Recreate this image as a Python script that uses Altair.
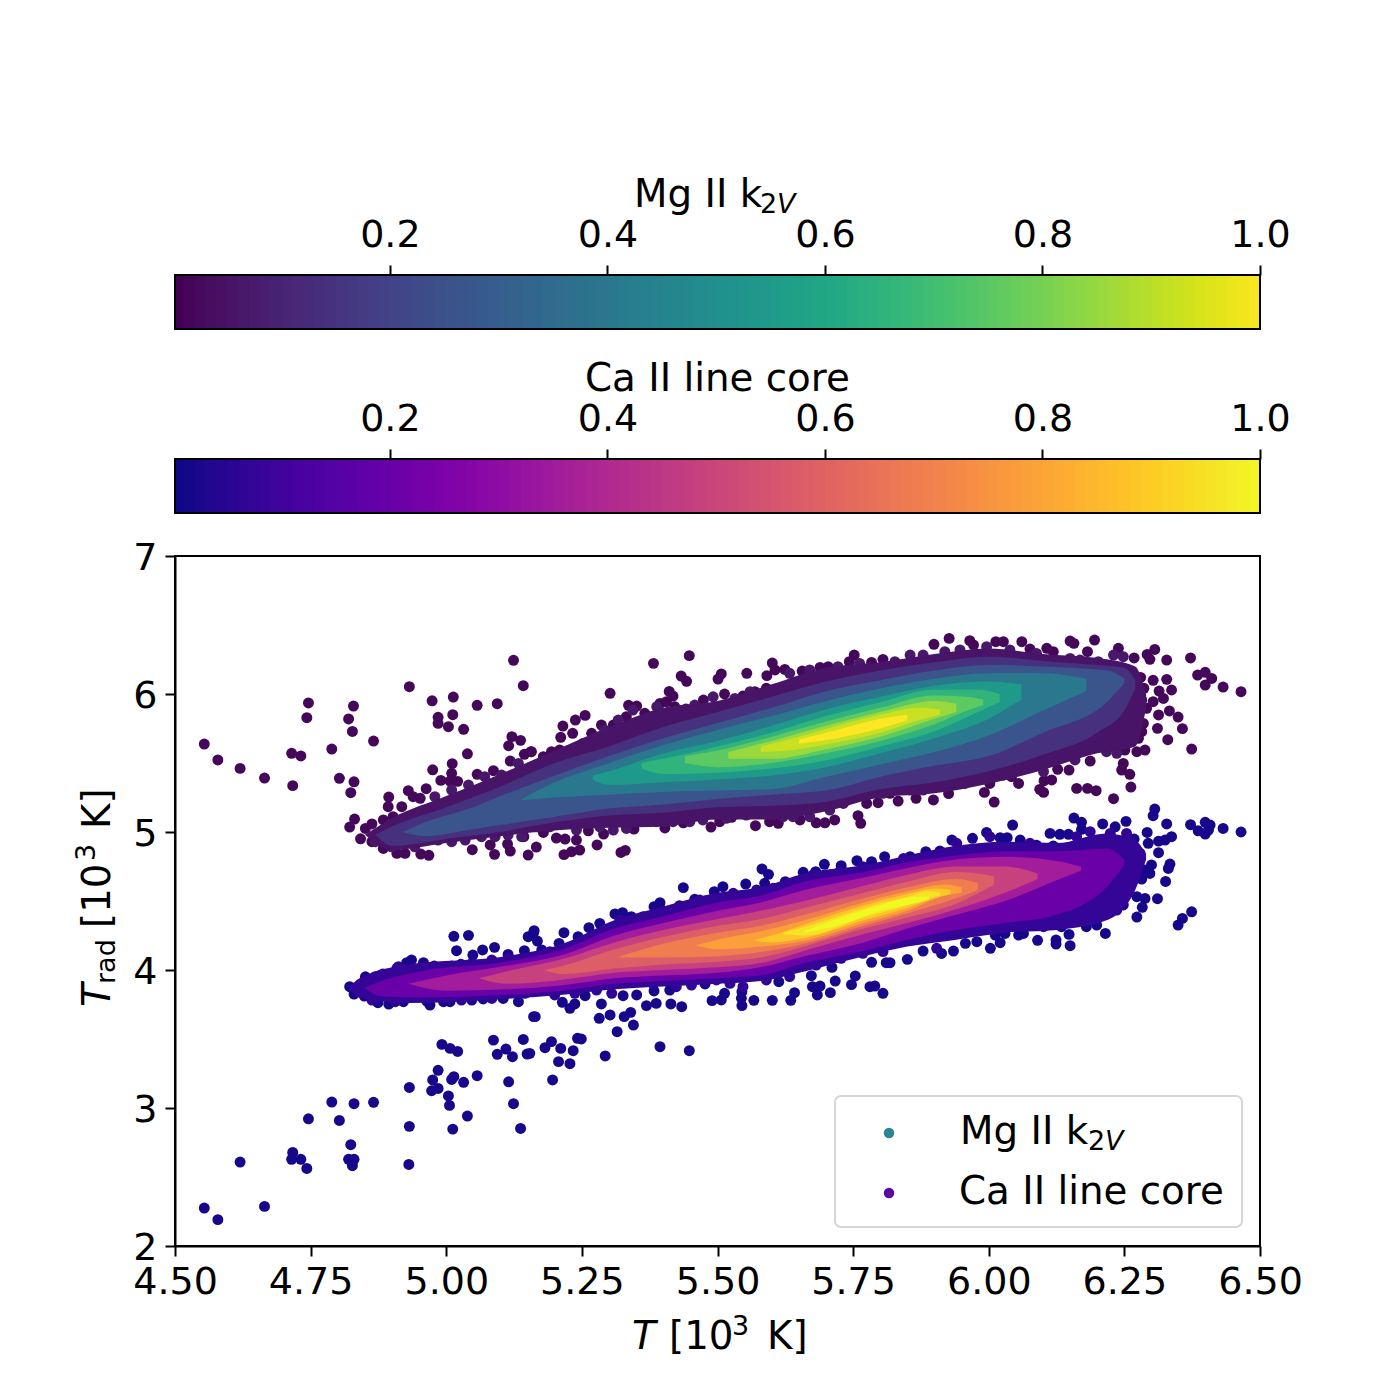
import altair as alt
import pandas as pd

FONT = "DejaVu Sans"
TEXT = 38.8
SUB = 27

# loose points, T and Trad in 10^3 K
mg_x = [4.554, 4.579, 4.620, 4.665, 4.717, 4.715, 4.732, 4.746, 4.743, 4.789, 4.803, 4.830, 4.824, 4.829, 4.820, 4.827, 4.866, 4.932, 4.974, 5.013, 5.057, 5.094, 5.124, 5.142, 4.985, 4.985, 5.012, 5.004, 5.032, 5.039, 5.121, 5.137, 5.115, 5.118, 5.144, 5.156, 4.975, 5.011, 5.010, 4.990, 5.007, 5.021, 5.057, 5.087, 4.894, 4.930, 4.963, 4.939, 4.952, 4.893, 4.831, 4.822, 4.842, 4.851, 4.863, 4.884, 4.902, 4.918, 4.863, 4.884, 4.909, 4.924, 4.953, 4.968, 5.048, 5.089, 5.118, 5.151, 5.113, 5.081, 5.143,
        5.382, 5.448, 5.302, 5.433, 5.443, 5.507, 5.501, 5.554, 5.411, 5.418, 5.256, 5.238, 5.215, 5.211, 5.233, 5.336, 5.351, 5.394, 5.406, 5.601, 5.591, 5.606, 5.624, 5.656, 5.689, 5.704, 5.743, 5.752, 5.784, 5.805, 5.474, 5.513, 5.547, 5.569, 5.590, 5.421, 5.442, 5.366, 5.332, 5.308, 5.286, 5.268, 5.252, 5.280, 5.209, 5.194, 5.179, 5.157,
        5.217, 5.231, 5.246, 5.166, 5.278, 5.322, 5.330, 5.262, 5.203, 5.219, 5.240, 5.179, 5.290, 5.346, 5.403, 5.488, 5.504, 5.526, 5.570, 5.612, 5.596, 5.652, 5.682, 5.698, 5.716, 5.759, 5.764, 5.775, 5.796, 5.437, 5.372,
        5.899, 5.927, 5.965, 5.972, 6.013, 6.027, 6.061, 6.076, 6.107, 6.119, 6.150, 6.157, 6.195, 6.182, 6.239, 6.306, 6.292, 6.297, 6.268, 6.328, 6.372, 6.385, 6.399, 6.411, 6.399, 6.432, 6.465, 6.280, 6.303, 6.328, 6.337, 6.314, 6.286, 6.322, 6.303, 6.282, 6.273, 6.291, 6.333, 6.349, 6.313, 6.357, 6.311, 6.330, 6.374, 6.285, 6.263, 6.282, 6.276, 6.288, 6.273, 6.251, 6.248, 6.245, 6.260, 6.262, 6.230, 6.198, 6.182, 6.162, 6.101, 6.094, 6.116, 6.102, 6.148, 6.127, 6.055, 6.187, 6.010, 5.992, 5.926, 5.898, 5.866, 5.833, 5.818, 5.956, 6.002, 6.042]
mg_y = [5.637, 5.522, 5.461, 5.391, 5.336, 5.570, 5.551, 5.935, 5.828, 5.601, 5.389, 5.364, 5.285, 5.913, 5.819, 5.729, 5.659, 6.053, 5.951, 5.978, 5.918, 5.930, 6.244, 6.060, 5.831, 5.787, 5.850, 5.763, 5.744, 5.567, 5.691, 5.664, 5.625, 5.514, 5.563, 5.582, 5.451, 5.495, 5.425, 5.374, 5.369, 5.367, 5.418, 5.444, 5.253, 5.299, 5.314, 5.256, 5.244, 5.183, 5.094, 5.036, 4.951, 5.026, 5.058, 5.087, 5.111, 5.183, 4.930, 4.881, 4.845, 4.845, 4.840, 4.831, 4.872, 4.838, 4.862, 4.833, 4.913, 4.906, 4.966,
        6.222, 6.278, 6.005, 6.130, 6.092, 6.145, 6.108, 6.150, 6.019, 5.985, 5.845, 5.811, 5.768, 5.686, 5.715, 5.918, 5.913, 5.932, 5.944, 6.224, 6.133, 6.174, 6.178, 6.166, 6.193, 6.198, 6.234, 6.282, 6.229, 6.251, 5.956, 6.000, 5.985, 6.017, 6.041, 5.908, 5.891, 5.860, 5.836, 5.775, 5.775, 5.715, 5.642, 5.582, 5.594, 5.582, 5.546, 5.582,
        4.836, 4.857, 4.869, 4.891, 4.906, 4.852, 4.867, 5.009, 4.956, 4.949, 4.942, 4.997, 4.985, 5.021, 5.029, 5.036, 5.075, 5.106, 5.046, 5.063, 5.075, 5.087, 5.067, 5.067, 5.087, 5.118, 5.063, 5.207, 5.212, 5.067, 5.087,
        6.360, 6.403, 6.386, 6.355, 6.379, 6.379, 6.379, 6.326, 6.331, 6.307, 6.384, 6.367, 6.391, 6.307, 6.331, 6.323, 6.287, 6.251, 6.261, 6.246, 6.261, 6.137, 6.157, 6.113, 6.065, 6.050, 6.017, 6.120, 6.099, 6.106, 6.029, 6.021, 6.041, 5.968, 5.944, 5.956, 5.896, 5.896, 5.877, 5.833, 5.848, 5.749, 5.751, 5.669, 5.601, 5.787, 5.787, 5.727, 5.679, 5.594, 5.582, 5.594, 5.497, 5.449, 5.418, 5.326, 5.241, 5.299, 5.316, 5.316, 5.287, 5.309, 5.377, 5.372, 5.449, 5.454, 5.352, 5.514, 5.217, 5.287, 5.278, 5.232, 5.244, 5.224, 5.280, 5.352, 5.352, 5.401]

ca_x = [5.014, 5.041, 5.019, 5.049, 5.067, 5.089, 5.114, 5.144, 5.151, 5.161, 4.822, 4.830, 4.849, 4.851, 4.874, 4.894, 4.921, 4.883, 4.909, 4.927, 4.936, 4.958, 4.978, 5.010, 5.027, 4.964, 4.970, 4.995, 5.007, 5.047, 5.068, 5.105, 5.133, 5.161, 4.992, 5.007, 5.021, 5.087, 5.094, 5.110, 5.122, 5.142, 5.149, 4.985, 4.975, 4.985, 4.973, 5.010, 5.014, 5.032, 5.057, 5.115, 4.932, 5.004, 5.006, 5.039, 5.124, 4.932, 5.012, 5.137, 4.789, 4.830, 4.866, 4.746, 4.803, 4.824, 4.717, 4.715, 4.732, 4.743, 4.620, 4.820, 4.830, 4.827, 4.931, 4.554, 4.579, 4.665,
        5.437, 5.582, 5.594, 5.587, 5.658, 5.697, 5.728, 5.757, 5.784, 5.808, 5.681, 5.625, 5.552, 5.510, 5.494, 5.458, 5.455, 5.394, 5.383, 5.397, 5.430, 5.311, 5.325, 5.341, 5.363, 5.372, 5.283, 5.263, 5.217, 5.162, 5.168, 5.176, 5.208, 5.243, 5.320,
        5.164, 5.214, 5.237, 5.228, 5.256, 5.286, 5.302, 5.282, 5.340, 5.328, 5.345, 5.315, 5.351, 5.326, 5.383, 5.369, 5.387, 5.414, 5.434, 5.412, 5.477, 5.490, 5.507, 5.513, 5.545, 5.544, 5.545, 5.567, 5.601, 5.635, 5.642, 5.613, 5.649, 5.673, 5.711, 5.717, 5.675, 5.689, 5.684, 5.708, 5.754, 5.747, 5.781, 5.790, 5.805, 5.811, 5.784, 5.182, 5.194, 5.211, 5.234, 5.242, 5.249, 5.207, 5.228, 5.293, 5.394, 5.448, 5.196, 5.154,
        6.044, 6.157, 6.171, 6.171, 6.210, 6.233, 6.253, 6.306, 6.303, 6.328, 6.292, 6.337, 6.325, 6.313, 6.372, 6.386, 6.399, 6.408, 6.405, 6.399, 6.432, 6.465, 6.113, 6.131, 6.147, 5.932, 5.996, 5.970, 6.021, 6.034, 6.058, 6.088, 6.119, 5.910, 5.884, 5.855, 6.268, 6.294, 6.313, 6.300, 6.334, 6.331, 6.326, 6.311, 6.282, 6.288, 6.297, 6.260, 6.273, 6.288, 6.283, 6.273, 6.374, 6.357, 6.349, 6.248, 6.215, 6.180, 6.199, 6.148, 6.150, 6.124, 6.124, 6.090, 6.064, 6.055, 6.021, 6.030, 6.012, 6.003, 5.978, 5.957, 5.935, 5.913, 5.879, 5.850, 5.818, 6.113, 6.134]
ca_y = [4.244, 4.251, 4.140, 4.108, 4.145, 4.164, 4.113, 4.140, 4.241, 4.270, 3.879, 3.826, 3.811, 3.951, 3.763, 3.753, 3.770, 3.971, 4.012, 4.053, 4.072, 4.053, 4.029, 4.029, 4.041, 3.775, 3.746, 3.770, 3.770, 3.782, 3.790, 3.794, 3.770, 3.662, 3.461, 3.432, 3.410, 3.492, 3.389, 3.427, 3.372, 3.497, 3.391, 3.273, 3.203, 3.142, 3.125, 3.207, 3.227, 3.186, 3.234, 3.190, 3.149, 3.087, 3.019, 2.942, 3.031, 2.867, 2.847, 2.852, 3.043, 3.031, 3.041, 2.922, 2.910, 2.734, 2.678, 2.628, 2.628, 2.562, 2.608, 2.628, 2.628, 2.582, 2.591, 2.275, 2.191, 2.287,
        4.597, 4.732, 4.693, 4.628, 4.708, 4.766, 4.756, 4.792, 4.785, 4.821, 4.713, 4.640, 4.623, 4.604, 4.568, 4.512, 4.471, 4.488, 4.459, 4.435, 4.466, 4.406, 4.415, 4.386, 4.386, 4.382, 4.338, 4.307, 4.270, 4.285, 4.210, 4.145, 4.193, 4.241, 4.338,
        3.662, 3.766, 3.754, 3.722, 3.814, 3.754, 3.674, 3.650, 3.693, 3.662, 3.601, 3.553, 3.819, 3.814, 3.848, 3.742, 3.758, 3.754, 3.734, 3.855, 3.899, 3.778, 3.783, 3.831, 3.742, 3.795, 3.843, 3.780, 3.780, 3.780, 3.836, 3.915, 4.024, 3.959, 4.019, 3.920, 3.879, 3.884, 3.819, 3.836, 3.957, 3.894, 3.879, 3.884, 3.831, 4.053, 4.056, 3.437, 3.481, 3.432, 3.415, 3.505, 3.500, 3.336, 3.321, 3.377, 3.444, 3.415, 3.203, 3.396,
        5.050, 5.101, 5.070, 5.019, 5.058, 5.038, 5.077, 5.166, 5.118, 5.058, 4.997, 4.966, 4.942, 4.934, 5.053, 5.009, 5.070, 5.050, 5.014, 4.985, 5.026, 5.000, 4.990, 4.983, 4.983, 4.942, 4.997, 4.954, 4.959, 4.959, 4.942, 4.905, 4.898, 4.862, 4.857, 4.821, 4.949, 4.918, 4.850, 4.761, 4.768, 4.736, 4.642, 4.517, 4.659, 4.724, 4.700, 4.616, 4.531, 4.519, 4.454, 4.384, 4.422, 4.374, 4.326, 4.471, 4.265, 4.314, 4.326, 4.258, 4.176, 4.188, 4.217, 4.215, 4.265, 4.253, 4.198, 4.265, 4.253, 4.157, 4.205, 4.193, 4.137, 4.120, 4.137, 4.077, 4.053, 4.338, 4.314]

# points that make the bumpy rim of the solid part of each cloud
mg_rim_x = [4.979, 5.010, 5.041, 5.071, 5.102, 5.133, 4.869, 4.899, 4.942, 4.985, 5.010, 5.035, 5.065, 5.090, 5.114, 5.139,
            5.166, 5.191, 5.240, 5.283, 5.308, 5.332, 5.363, 5.387, 5.418, 5.449, 5.473, 5.516, 5.553, 5.578, 5.621, 5.639, 5.670, 5.707, 5.732, 5.768, 5.805,
            5.222, 5.246, 5.292, 5.317, 5.344, 5.388, 5.458, 5.492, 5.532, 5.560, 5.633, 5.670, 5.722, 5.762,
            5.827, 5.855, 5.879, 5.919, 5.947, 5.996, 6.039, 6.088, 6.150, 6.168, 6.202, 6.230, 6.248,
            5.855, 5.879, 5.978, 6.027, 6.076, 6.101, 6.159, 6.217, 6.236,
            6.242, 6.230, 6.248, 6.254, 6.217, 6.187, 6.199, 6.236, 6.248]
mg_rim_y = [5.256, 5.304, 5.340, 5.401, 5.413, 5.497, 4.930, 4.893, 4.893, 4.942, 4.930, 4.942, 4.966, 4.966, 4.978, 4.966,
            5.038, 5.038, 5.014, 5.038, 5.014, 5.026, 5.087, 5.075, 5.075, 5.075, 5.087, 5.099, 5.123, 5.135, 5.111, 5.111, 5.111, 5.159, 5.207, 5.280, 5.280,
            5.570, 5.606, 5.739, 5.811, 5.884, 5.908, 5.920, 5.980, 5.968, 6.017, 6.150, 6.174, 6.198, 6.222,
            6.234, 6.282, 6.282, 6.307, 6.319, 6.343, 6.319, 6.294, 6.258, 6.246, 6.234, 6.282, 6.270,
            5.304, 5.304, 5.377, 5.413, 5.473, 5.437, 5.522, 5.582, 5.570,
            5.739, 5.884, 5.884, 6.005, 5.811, 5.823, 5.715, 5.666, 6.174]
ca_rim_x = [4.869, 4.893, 4.912, 5.047, 5.084, 5.114, 5.145, 4.863, 4.906, 4.942, 5.028, 5.084, 5.145,
            5.172, 5.200, 5.237, 5.277, 5.305, 5.381, 5.424, 5.452, 5.498, 5.523, 5.547, 5.590, 5.633, 5.652, 5.682, 5.728, 5.768, 5.805,
            5.191, 5.320, 5.412, 5.467, 5.529, 5.572, 5.603, 5.646, 5.676, 5.725, 5.768,
            5.843, 5.941, 6.002, 6.076, 6.162, 6.187, 6.224, 6.254,
            5.904, 6.008, 6.101, 6.125, 6.162, 6.199, 6.236, 6.248, 6.224, 6.193, 6.254, 6.279, 6.248]
ca_rim_y = [3.951, 3.963, 4.024, 4.048, 4.072, 4.084, 4.072, 3.782, 3.770, 3.806, 3.782, 3.794, 3.831,
            3.855, 3.819, 3.831, 3.855, 3.831, 3.903, 3.879, 3.891, 3.928, 3.903, 3.879, 3.928, 3.952, 4.036, 4.036, 4.085, 4.121, 4.133,
            4.133, 4.362, 4.398, 4.507, 4.556, 4.580, 4.592, 4.640, 4.688, 4.713, 4.749,
            4.809, 4.918, 4.966, 4.918, 4.966, 5.002, 4.990, 4.990,
            4.157, 4.290, 4.314, 4.338, 4.410, 4.374, 4.434, 4.507, 4.555, 4.507, 4.773, 4.845, 4.724]

# density bands of the solid part of each cloud, outermost first
mg_levels = [0.05, 0.14, 0.26, 0.40, 0.54, 0.65, 0.75, 0.85, 0.92, 1.0]
mg_band_x = [
    [4.85, 4.90, 5.00, 5.10, 5.20, 5.30, 5.40, 5.50, 5.60, 5.70, 5.80, 5.90, 6.00, 6.10, 6.20, 6.27, 6.29],
    [4.87, 4.90, 5.00, 5.10, 5.20, 5.30, 5.40, 5.50, 5.60, 5.70, 5.80, 5.90, 6.00, 6.10, 6.20, 6.25, 6.27],
    [4.92, 4.96, 5.05, 5.10, 5.20, 5.30, 5.40, 5.50, 5.60, 5.70, 5.80, 5.90, 6.00, 6.10, 6.22, 6.25],
    [5.14, 5.20, 5.30, 5.40, 5.50, 5.60, 5.70, 5.80, 5.90, 6.00, 6.10, 6.18],
    [5.27, 5.30, 5.40, 5.50, 5.60, 5.70, 5.80, 5.90, 6.00, 6.06],
    [5.36, 5.40, 5.50, 5.60, 5.70, 5.80, 5.90, 5.98, 6.02],
    [5.44, 5.50, 5.60, 5.70, 5.80, 5.90, 5.96, 5.99],
    [5.52, 5.60, 5.70, 5.80, 5.90, 5.94],
    [5.58, 5.65, 5.72, 5.80, 5.87, 5.91],
    [5.65, 5.72, 5.80, 5.85],
]
mg_band_hi = [
    [4.98, 5.10, 5.26, 5.42, 5.59, 5.76, 5.90, 5.95, 6.07, 6.19, 6.23, 6.29, 6.33, 6.29, 6.26, 6.20, 6.00],
    [4.98, 5.04, 5.18, 5.33, 5.50, 5.62, 5.76, 5.87, 5.98, 6.09, 6.17, 6.23, 6.27, 6.24, 6.21, 6.19, 6.10],
    [5.00, 5.07, 5.18, 5.26, 5.41, 5.55, 5.68, 5.79, 5.90, 6.02, 6.10, 6.17, 6.21, 6.20, 6.17, 6.11],
    [5.24, 5.36, 5.50, 5.63, 5.74, 5.84, 5.95, 6.04, 6.11, 6.15, 6.15, 6.11],
    [5.41, 5.44, 5.57, 5.66, 5.77, 5.89, 5.98, 6.06, 6.09, 6.07],
    [5.50, 5.53, 5.62, 5.72, 5.84, 5.94, 6.03, 6.03, 6.00],
    [5.55, 5.59, 5.69, 5.80, 5.90, 5.99, 5.98, 5.96],
    [5.58, 5.66, 5.77, 5.87, 5.95, 5.93],
    [5.62, 5.69, 5.77, 5.85, 5.90, 5.89],
    [5.67, 5.74, 5.82, 5.85],
]
mg_band_lo = [
    [4.98, 4.87, 4.92, 4.97, 5.01, 5.03, 5.04, 5.09, 5.09, 5.15, 5.25, 5.28, 5.35, 5.45, 5.57, 5.62, 5.90],
    [4.98, 4.90, 4.95, 5.00, 5.07, 5.12, 5.14, 5.18, 5.19, 5.22, 5.31, 5.36, 5.44, 5.56, 5.72, 5.88, 6.04],
    [5.00, 4.97, 5.02, 5.05, 5.11, 5.17, 5.20, 5.24, 5.27, 5.30, 5.40, 5.48, 5.55, 5.72, 5.95, 6.08],
    [5.23, 5.25, 5.27, 5.29, 5.30, 5.31, 5.40, 5.49, 5.58, 5.70, 5.88, 6.02],
    [5.38, 5.34, 5.36, 5.38, 5.41, 5.47, 5.57, 5.68, 5.82, 5.96],
    [5.46, 5.42, 5.43, 5.46, 5.52, 5.62, 5.73, 5.87, 5.94],
    [5.50, 5.47, 5.50, 5.57, 5.66, 5.78, 5.88, 5.92],
    [5.53, 5.53, 5.60, 5.69, 5.82, 5.87],
    [5.58, 5.60, 5.65, 5.72, 5.81, 5.85],
    [5.64, 5.68, 5.75, 5.81],
]

ca_levels = [0.07, 0.20, 0.35, 0.48, 0.58, 0.68, 0.78, 0.88, 0.95, 1.0]
ca_band_x = [
    [4.82, 4.84, 4.93, 5.11, 5.215, 5.31, 5.40, 5.50, 5.58, 5.66, 5.77, 5.85, 5.94, 6.03, 6.125, 6.217, 6.27, 6.29],
    [4.85, 4.88, 4.95, 5.11, 5.215, 5.31, 5.40, 5.50, 5.58, 5.66, 5.77, 5.85, 5.94, 6.03, 6.125, 6.217, 6.25],
    [4.93, 5.00, 5.11, 5.215, 5.31, 5.40, 5.50, 5.58, 5.66, 5.77, 5.85, 5.94, 6.03, 6.125, 6.17],
    [5.06, 5.11, 5.215, 5.31, 5.40, 5.50, 5.58, 5.66, 5.77, 5.85, 5.94, 6.03, 6.09],
    [5.18, 5.215, 5.31, 5.40, 5.50, 5.58, 5.66, 5.77, 5.85, 5.94, 6.01],
    [5.32, 5.40, 5.50, 5.58, 5.66, 5.77, 5.85, 5.94, 5.98],
    [5.46, 5.50, 5.58, 5.66, 5.77, 5.85, 5.92, 5.95],
    [5.57, 5.60, 5.66, 5.77, 5.85, 5.90, 5.93],
    [5.62, 5.66, 5.77, 5.85, 5.89, 5.91],
    [5.66, 5.72, 5.80, 5.87, 5.89],
]
ca_band_hi = [
    [3.87, 3.94, 4.04, 4.10, 4.19, 4.36, 4.46, 4.56, 4.60, 4.70, 4.76, 4.83, 4.90, 4.93, 4.92, 4.99, 4.94, 4.84],
    [3.87, 3.92, 3.99, 4.06, 4.15, 4.30, 4.39, 4.49, 4.54, 4.64, 4.71, 4.78, 4.83, 4.86, 4.86, 4.88, 4.80],
    [3.90, 3.96, 4.03, 4.11, 4.25, 4.34, 4.43, 4.49, 4.58, 4.67, 4.74, 4.80, 4.82, 4.79, 4.75],
    [3.94, 3.99, 4.08, 4.20, 4.29, 4.37, 4.43, 4.50, 4.61, 4.69, 4.75, 4.75, 4.70],
    [4.00, 4.03, 4.15, 4.24, 4.32, 4.37, 4.45, 4.56, 4.64, 4.71, 4.68],
    [4.10, 4.19, 4.27, 4.32, 4.40, 4.52, 4.60, 4.66, 4.63],
    [4.18, 4.22, 4.28, 4.36, 4.49, 4.57, 4.62, 4.60],
    [4.22, 4.25, 4.33, 4.47, 4.55, 4.59, 4.58],
    [4.27, 4.31, 4.45, 4.53, 4.57, 4.56],
    [4.28, 4.37, 4.47, 4.53, 4.53],
]
ca_band_lo = [
    [3.87, 3.80, 3.76, 3.79, 3.82, 3.86, 3.88, 3.90, 3.92, 3.99, 4.10, 4.17, 4.22, 4.27, 4.29, 4.36, 4.58, 4.80],
    [3.87, 3.81, 3.80, 3.82, 3.85, 3.90, 3.92, 3.94, 3.96, 4.05, 4.14, 4.22, 4.29, 4.34, 4.40, 4.60, 4.76],
    [3.90, 3.85, 3.86, 3.89, 3.94, 3.96, 3.98, 4.02, 4.10, 4.20, 4.30, 4.40, 4.50, 4.65, 4.72],
    [3.94, 3.90, 3.93, 3.98, 4.00, 4.02, 4.05, 4.14, 4.26, 4.34, 4.44, 4.56, 4.66],
    [4.00, 3.97, 4.01, 4.04, 4.06, 4.09, 4.17, 4.30, 4.38, 4.48, 4.62],
    [4.09, 4.09, 4.10, 4.13, 4.19, 4.32, 4.41, 4.52, 4.58],
    [4.18, 4.15, 4.17, 4.21, 4.34, 4.43, 4.54, 4.56],
    [4.21, 4.20, 4.23, 4.36, 4.45, 4.52, 4.55],
    [4.26, 4.25, 4.38, 4.47, 4.52, 4.54],
    [4.27, 4.32, 4.43, 4.49, 4.51],
]

cbar_steps = [0.00, 0.01, 0.02, 0.03, 0.04, 0.05, 0.06, 0.07, 0.08, 0.09,
              0.10, 0.11, 0.12, 0.13, 0.14, 0.15, 0.16, 0.17, 0.18, 0.19,
              0.20, 0.21, 0.22, 0.23, 0.24, 0.25, 0.26, 0.27, 0.28, 0.29,
              0.30, 0.31, 0.32, 0.33, 0.34, 0.35, 0.36, 0.37, 0.38, 0.39,
              0.40, 0.41, 0.42, 0.43, 0.44, 0.45, 0.46, 0.47, 0.48, 0.49,
              0.50, 0.51, 0.52, 0.53, 0.54, 0.55, 0.56, 0.57, 0.58, 0.59,
              0.60, 0.61, 0.62, 0.63, 0.64, 0.65, 0.66, 0.67, 0.68, 0.69,
              0.70, 0.71, 0.72, 0.73, 0.74, 0.75, 0.76, 0.77, 0.78, 0.79,
              0.80, 0.81, 0.82, 0.83, 0.84, 0.85, 0.86, 0.87, 0.88, 0.89,
              0.90, 0.91, 0.92, 0.93, 0.94, 0.95, 0.96, 0.97, 0.98, 0.99]
cbar_ticks = [0.2, 0.4, 0.6, 0.8, 1.0]
x_ticks = [4.5, 4.75, 5.0, 5.25, 5.5, 5.75, 6.0, 6.25, 6.5]
y_ticks = [2, 3, 4, 5, 6, 7]

W = 1085
BAR_H = 54
PLOT_H = 690
x_scale = alt.Scale(domain=[4.5, 6.5], nice=False)
y_scale = alt.Scale(domain=[2, 7], nice=False)


def word(text, x, y, size=TEXT, style="normal", angle=0):
    # one piece of a mixed-style label, placed in panel pixels
    return alt.Chart(pd.DataFrame({"t": [text]})).mark_text(
        font=FONT, fontSize=size, fontStyle=style, angle=angle,
        align="left", baseline="alphabetic", color="black", clip=False
    ).encode(x=alt.value(x), y=alt.value(y), text="t:N")


def colorbar(scheme, pieces):
    df = pd.DataFrame({"lo": cbar_steps})
    df["hi"] = df["lo"] + 0.012  # small overlap so no seams show
    strip = alt.Chart(df).mark_rect(clip=True).encode(
        x=alt.X("lo:Q", scale=alt.Scale(domain=[0.0024, 1.0], nice=False),
                axis=alt.Axis(orient="top", values=cbar_ticks, format=".1f", title=None, labelPadding=11)),
        x2="hi:Q",
        y=alt.value(0), y2=alt.value(BAR_H),
        color=alt.Color("lo:Q", scale=alt.Scale(scheme=scheme, domain=[0, 1]), legend=None),
    )
    frame = alt.Chart(pd.DataFrame({"a": [0]})).mark_rect(
        fill="transparent", stroke="black", strokeWidth=2
    ).encode(x=alt.value(0), x2=alt.value(W), y=alt.value(0), y2=alt.value(BAR_H))
    return alt.layer(strip, frame, *pieces).properties(width=W, height=BAR_H)


def cloud(scheme, xs, ys, rim_x, rim_y, levels, band_x, band_hi, band_lo):
    color_scale = alt.Scale(scheme=scheme, domain=[0, 1])
    pts = pd.concat([
        pd.DataFrame({"x": xs, "y": ys, "c": 0.015}),
        pd.DataFrame({"x": rim_x, "y": rim_y, "c": 0.06}),
    ])
    layers = [alt.Chart(pts).mark_circle(size=120, opacity=1).encode(
        x=alt.X("x:Q", scale=x_scale, axis=alt.Axis(values=x_ticks, format=".2f", title=None, labelPadding=7)),
        y=alt.Y("y:Q", scale=y_scale, axis=alt.Axis(values=y_ticks, format="d", title=None, labelOffset=2)),
        color=alt.Color("c:Q", scale=color_scale, legend=None),
    )]
    for lev, bx, hi, lo in zip(levels, band_x, band_hi, band_lo):
        band = pd.DataFrame({"x": bx, "hi": hi, "lo": lo, "c": lev})
        layers.append(alt.Chart(band).mark_area(interpolate="monotone", opacity=1).encode(
            x=alt.X("x:Q", scale=x_scale),
            y=alt.Y("lo:Q", scale=y_scale),
            y2="hi:Q",
            color=alt.Color("c:Q", scale=color_scale, legend=None),
        ))
    return alt.layer(*layers)


bar_mg = colorbar("viridis", [word("Mg II k", 459, -68), word("2", 585, -62, SUB), word("V", 602, -62, SUB, "italic")])
bar_ca = colorbar("plasma", [word("Ca II line core", 410, -68)])

# empty panel that holds the two colourbars apart
gap = alt.Chart(pd.DataFrame({"a": [0]})).mark_point(opacity=0).encode(
    x=alt.value(0), y=alt.value(0)
).properties(width=W, height=44, view=alt.ViewBackground(strokeOpacity=0))

legend_box = alt.Chart(pd.DataFrame({"a": [0]})).mark_rect(
    fill="white", fillOpacity=0.8, stroke="#d6d6d6", strokeWidth=2, cornerRadius=6
).encode(x=alt.value(660), x2=alt.value(1067), y=alt.value(540), y2=alt.value(671))
legend_mg = alt.Chart(pd.DataFrame({"a": [0]})).mark_circle(size=110, opacity=1, color="#2a8595").encode(
    x=alt.value(714), y=alt.value(577))
legend_ca = alt.Chart(pd.DataFrame({"a": [0]})).mark_circle(size=110, opacity=1, color="#5a07a6").encode(
    x=alt.value(714), y=alt.value(637))

main = alt.layer(
    alt.layer(
        cloud("viridis", mg_x, mg_y, mg_rim_x, mg_rim_y, mg_levels, mg_band_x, mg_band_hi, mg_band_lo),
        cloud("plasma", ca_x, ca_y, ca_rim_x, ca_rim_y, ca_levels, ca_band_x, ca_band_hi, ca_band_lo),
    ).resolve_scale(color="independent"),
    legend_box, legend_mg, legend_ca,
    word("Mg II k", 785, 588), word("2", 913, 594, SUB), word("V", 930, 594, SUB, "italic"),
    word("Ca II line core", 784, 648),
    # x title
    word("T", 457, 793, TEXT, "italic"), word("[10", 494, 793), word("3", 557, 779, SUB), word("K]", 592, 793),
    # y title, reads upward
    word("T", -65, 451, TEXT, "italic", 270), word("rad", -60, 428, SUB, "normal", 270),
    word("[10", -65, 372, TEXT, "normal", 270), word("3", -80, 305, SUB, "normal", 270),
    word("K]", -65, 273, TEXT, "normal", 270),
).properties(width=W, height=PLOT_H)

chart = alt.vconcat(bar_mg, gap, bar_ca, main, spacing=43, bounds="flush").resolve_scale(
    color="independent"
).properties(
    padding={"left": 64, "top": 167, "right": 20, "bottom": 20}
).configure_axis(
    labelFont=FONT, labelFontSize=38, labelColor="black", labelPadding=8,
    tickSize=10, tickWidth=2, tickColor="black", grid=False,
    domainColor="black", domainWidth=2, labelFlush=False, labelOverlap=False
).configure_view(stroke="black", strokeWidth=2)

chart.save("out.html", embed_options={"renderer": "svg", "actions": False})
